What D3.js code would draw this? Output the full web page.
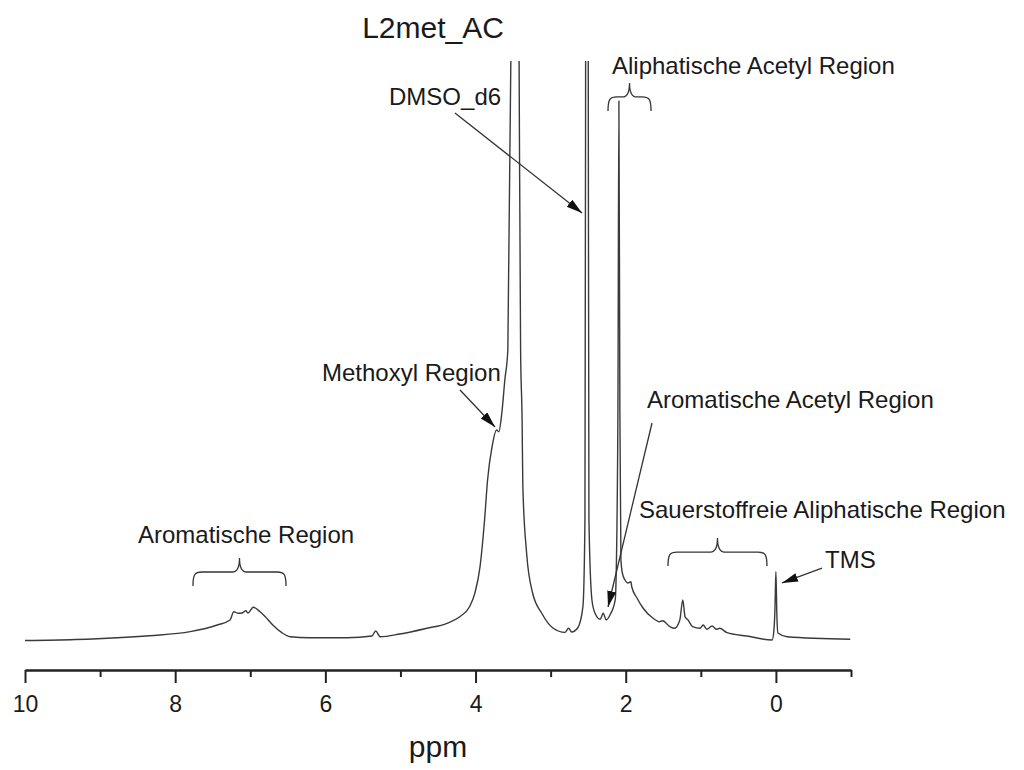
<!DOCTYPE html>
<html>
<head>
<meta charset="utf-8">
<script src="https://cdn.jsdelivr.net/npm/d3@7"></script>
<style>
  html, body { margin: 0; padding: 0; background: #fff; }
  svg { display: block; }
  text { font-family: "Liberation Sans", Arial, Helvetica, sans-serif; fill: #1a1a1a; }
</style>
</head>
<body>
<svg id="chart" width="1024" height="770"></svg>
<script>
// ---------------- data ----------------
const chartTitle = "L2met_AC";
const axisLabel = "ppm";
const majorTicks = [10, 8, 6, 4, 2, 0];
const minorTicks = [9, 7, 5, 3, 1, -1];

// chemical shift (ppm) of each sampled point of the spectrum
const shifts = [10.00, 9.33, 8.34, 7.80, 7.44, 7.27, 7.22, 7.16, 7.10, 7.06, 7.03, 6.96, 6.87, 6.80, 6.70, 6.58, 6.47, 6.21,
  5.71, 5.38, 5.33, 5.27, 5.01, 4.65, 4.38, 4.21, 4.08, 4.01, 3.94, 3.88, 3.84, 3.78, 3.72, 3.69, 3.65, 3.61, 3.57, 3.53,
  3.475, 3.42, 3.40, 3.38, 3.37, 3.32, 3.24, 3.12, 2.97, 2.81, 2.76, 2.72, 2.64, 2.57, 2.543, 2.534, 2.517, 2.499, 2.490,
  2.45, 2.41, 2.34, 2.30, 2.26, 2.21, 2.14, 2.13, 2.104, 2.091, 2.078, 2.064, 2.045, 2.01, 1.97, 1.93, 1.92, 1.85, 1.77,
  1.64, 1.55, 1.51, 1.41, 1.35, 1.28, 1.24, 1.21, 1.17, 1.11, 1.01, 0.97, 0.92, 0.85, 0.79, 0.75, 0.65, 0.39, 0.05,
  0.027, 0.013, 0.000, -0.013, -0.027, -0.15, -0.99];
// intensity (arbitrary units) at each shift
const intensities = [0.77, 0.94, 1.59, 2.28, 3.42, 4.28, 5.70, 5.43, 5.53, 5.87, 5.48, 6.46, 5.70, 4.85, 3.42, 2.11, 1.42, 1.25,
  1.25, 1.54, 2.40, 1.42, 1.88, 2.86, 3.72, 4.85, 6.56, 8.85, 13.41, 21.40, 28.25, 33.96, 36.82, 36.52, 39.73, 45.38, 50.51, 100,
  260, 100, 50.5, 38.5, 27.05, 15.75, 8.90, 5.48, 2.91, 2.17, 2.86, 2.23, 2.91, 6.56, 21.4, 100, 400, 100, 21.4,
  7.71, 5.48, 4.40, 5.43, 4.28, 5.14, 7.71, 10.5, 40, 93.15, 40, 14.55, 12.33, 11.13, 10.62, 10.84, 9.98, 8.05, 6.34,
  4.62, 3.99, 4.16, 3.13, 2.86, 4.28, 7.71, 4.85, 4.28, 3.13, 2.86, 3.42, 2.69, 3.25, 2.69, 2.86, 2.11, 1.54, 0.86,
  2.5, 6, 12.55, 5, 2.05, 1.42, 0.98];

// annotation labels: text, anchor shift (ppm), anchor intensity
const labelTexts = ["DMSO_d6", "Aliphatische Acetyl Region", "Methoxyl Region", "Aromatische Acetyl Region",
  "Sauerstoffreie Aliphatische Region", "TMS", "Aromatische Region"];
const labelShifts = [5.152, 2.183, 6.045, 1.717, 1.823, -0.654, 8.495];
const labelLevels = [92.47, 97.77, 45.21, 40.58, 21.75, 13.18, 17.47];

// arrows: start (ppm, intensity) -> tip (ppm, intensity)
const arrowFromShift = [4.274, 4.207, 1.650, -0.614];
const arrowFromLevel = [91.1, 43.66, 38.01, 13.18];
const arrowToShift = [2.582, 3.741, 2.236, -0.081];
const arrowToLevel = [73.97, 37.33, 6.51, 10.62];

// braces: ppm range and intensity level of the horizontal bar
const braceFrom = [7.763, 2.236, 1.437];
const braceTo = [6.524, 1.663, 0.119];
const braceLevel = [12.5, 93.84, 15.92];

// ---------------- drawing ----------------
const svg = d3.select("#chart");
const x = d3.scaleLinear().domain([10, -1]).range([25, 851]);
const y = d3.scaleLinear().domain([0, 100]).range([645, 61]);
const axisY = 670;

const defs = svg.append("defs");
defs.append("clipPath").attr("id", "plotClip")
  .append("rect").attr("x", 0).attr("y", y(100)).attr("width", 1024).attr("height", axisY - y(100));
defs.append("marker").attr("id", "arrowHead")
  .attr("markerUnits", "userSpaceOnUse")
  .attr("markerWidth", 17).attr("markerHeight", 10)
  .attr("refX", 16).attr("refY", 4.5).attr("orient", "auto")
  .append("path").attr("d", "M0,0 L16,4.5 L0,9 Z").attr("fill", "#111");

// spectrum
const points = shifts.map((s, i) => [s, intensities[i]]);
const line = d3.line().x(d => x(d[0])).y(d => y(d[1])).curve(d3.curveMonotoneX);
svg.append("path")
  .datum(points)
  .attr("clip-path", "url(#plotClip)")
  .attr("d", line)
  .attr("fill", "none")
  .attr("stroke", "#3a3a3a")
  .attr("stroke-width", 1.4)
  .attr("stroke-linejoin", "round");

// axis
const gMinor = svg.append("g").attr("transform", `translate(0,${axisY})`)
  .call(d3.axisBottom(x).tickValues(minorTicks).tickSize(7).tickSizeOuter(0).tickFormat(""));
const gMajor = svg.append("g").attr("transform", `translate(0,${axisY})`)
  .call(d3.axisBottom(x).tickValues(majorTicks).tickSize(13).tickSizeOuter(0).tickPadding(13).tickFormat(d3.format("d")));
[gMinor, gMajor].forEach(g => {
  g.selectAll("path.domain").attr("stroke", "#222").attr("stroke-width", 2);
  g.selectAll(".tick line").attr("stroke", "#222").attr("stroke-width", 2);
});
gMajor.selectAll(".tick text")
  .style("font-family", '"Liberation Sans", Arial, sans-serif')
  .style("font-size", "23px").attr("fill", "#1a1a1a");

// axis title
svg.append("text").attr("x", x(4.5)).attr("y", 757)
  .attr("text-anchor", "middle").style("font-size", "30px").text(axisLabel);

// chart title
svg.append("text").attr("x", 433).attr("y", 38).attr("text-anchor", "middle")
  .style("font-size", "30px").text(chartTitle);

// labels
labelTexts.forEach((t, i) => {
  svg.append("text").attr("x", x(labelShifts[i])).attr("y", y(labelLevels[i]))
    .style("font-size", "24px").text(t);
});

// arrows
arrowFromShift.forEach((s, i) => {
  svg.append("line")
    .attr("x1", x(s)).attr("y1", y(arrowFromLevel[i]))
    .attr("x2", x(arrowToShift[i])).attr("y2", y(arrowToLevel[i]))
    .attr("stroke", "#333").attr("stroke-width", 1.3)
    .attr("marker-end", "url(#arrowHead)");
});

// braces
const depth = 14, rise = 14;
braceFrom.forEach((s, i) => {
  const x1 = x(s), x2 = x(braceTo[i]), yc = y(braceLevel[i]), xc = (x1 + x2) / 2;
  const p = d3.path();
  p.moveTo(x1, yc + depth);
  p.bezierCurveTo(x1, yc + 2, x1 + 2, yc, x1 + 9, yc);
  p.lineTo(xc - 7, yc);
  p.bezierCurveTo(xc - 2, yc, xc, yc - 4, xc, yc - rise);
  p.bezierCurveTo(xc, yc - 4, xc + 2, yc, xc + 7, yc);
  p.lineTo(x2 - 9, yc);
  p.bezierCurveTo(x2 - 2, yc, x2, yc + 2, x2, yc + depth);
  svg.append("path").attr("d", p.toString())
    .attr("fill", "none").attr("stroke", "#333").attr("stroke-width", 1.3);
});
</script>
</body>
</html>
